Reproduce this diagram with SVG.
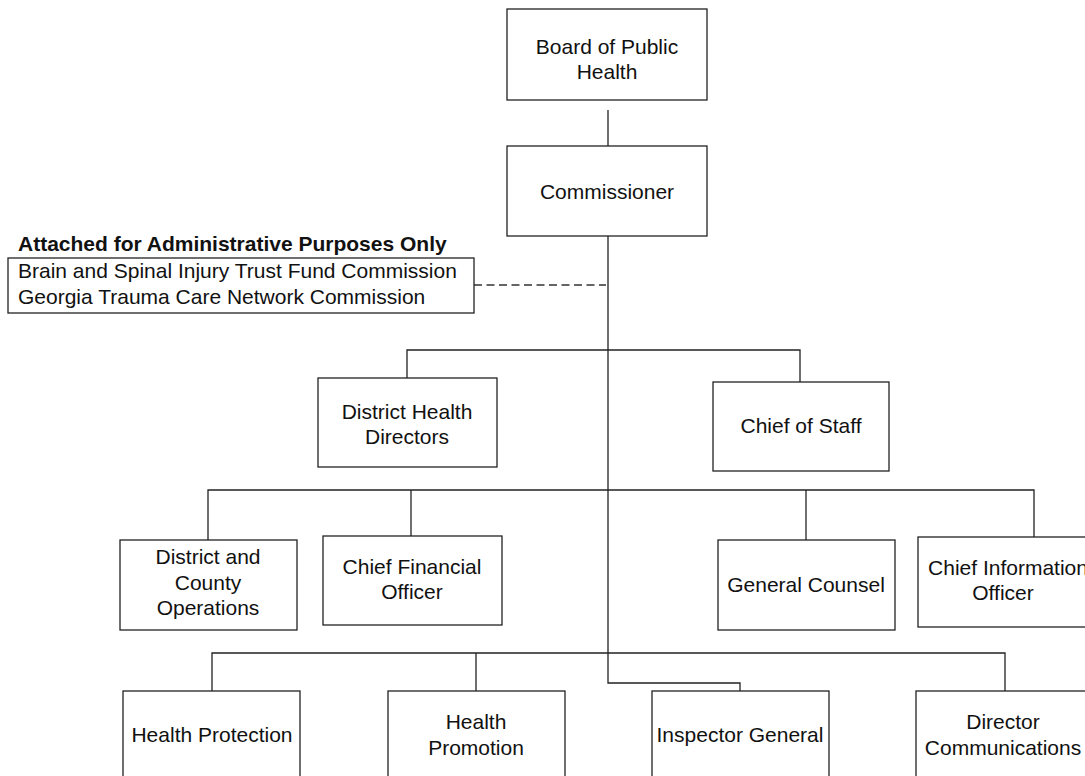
<svg xmlns="http://www.w3.org/2000/svg" width="1085" height="776" viewBox="0 0 1085 776">
<style>
.b{fill:#fff;stroke:#222;stroke-width:1.3}
.t{font-family:"Liberation Sans",Arial,sans-serif;font-size:21px;fill:#111;text-anchor:middle}
.l{fill:none;stroke:#222;stroke-width:1.3}
.d{fill:none;stroke:#333;stroke-width:1.3;stroke-dasharray:8 4.5}
.h{font-family:"Liberation Sans",Arial,sans-serif;font-size:21px;font-weight:bold;fill:#111}
</style>
<rect width="1085" height="776" fill="#fff"/>
<g id="connectors">
<path class="l" d="M608 110V146"/>
<path class="l" d="M608 236V683H740V691"/>
<path class="d" d="M474 285H606"/>
<path class="l" d="M407 378V350H800V382"/>
<path class="l" d="M208 540V490H1034V537"/>
<path class="l" d="M411 490V536"/>
<path class="l" d="M806 490V540"/>
<path class="l" d="M212 691V653H1005V691"/>
<path class="l" d="M476 653V691"/>
</g>
<g id="board"><rect class="b" x="507" y="9" width="200" height="91"/><text class="t" x="607" y="54">Board of Public</text><text class="t" x="607" y="79">Health</text></g>
<g id="commissioner"><rect class="b" x="507" y="146" width="200" height="90"/><text class="t" x="607" y="199">Commissioner</text></g>
<g id="attached"><text class="h" x="18" y="251">Attached for Administrative Purposes Only</text><rect class="b" x="8" y="258" width="466" height="55"/><text class="t" x="18" y="278" style="text-anchor:start">Brain and Spinal Injury Trust Fund Commission</text><text class="t" x="18" y="304" style="text-anchor:start">Georgia Trauma Care Network Commission</text></g>
<g id="district-health"><rect class="b" x="318" y="378" width="179" height="89"/><text class="t" x="407" y="419">District Health</text><text class="t" x="407" y="444">Directors</text></g>
<g id="chief-staff"><rect class="b" x="713" y="382" width="176" height="89"/><text class="t" x="801" y="433">Chief of Staff</text></g>
<g id="district-county"><rect class="b" x="120" y="540" width="177" height="90"/><text class="t" x="208" y="564">District and</text><text class="t" x="208" y="590">County</text><text class="t" x="208" y="615">Operations</text></g>
<g id="cfo"><rect class="b" x="323" y="536" width="179" height="89"/><text class="t" x="412" y="574">Chief Financial</text><text class="t" x="412" y="599">Officer</text></g>
<g id="general-counsel"><rect class="b" x="718" y="540" width="177" height="90"/><text class="t" x="806" y="592">General Counsel</text></g>
<g id="cio"><rect class="b" x="918" y="537" width="180" height="90"/><text class="t" x="1008" y="575">Chief Information</text><text class="t" x="1003" y="600">Officer</text></g>
<g id="health-protection"><rect class="b" x="123" y="691" width="177" height="100"/><text class="t" x="212" y="742">Health Protection</text></g>
<g id="health-promotion"><rect class="b" x="388" y="691" width="177" height="100"/><text class="t" x="476" y="729">Health</text><text class="t" x="476" y="755">Promotion</text></g>
<g id="inspector-general"><rect class="b" x="652" y="691" width="177" height="100"/><text class="t" x="740" y="742">Inspector General</text></g>
<g id="director-comms"><rect class="b" x="916" y="691" width="180" height="100"/><text class="t" x="1003" y="729">Director</text><text class="t" x="1003" y="755">Communications</text></g>
</svg>
